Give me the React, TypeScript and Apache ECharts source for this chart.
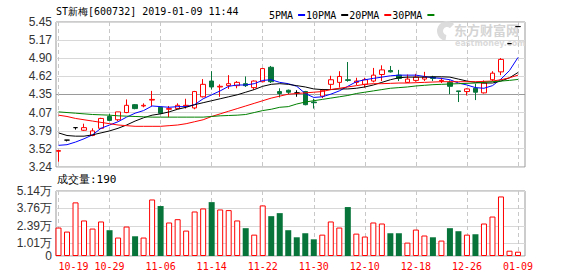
import React, { useEffect, useRef } from 'react';
import * as echarts from 'echarts';

const dates = [
  '10-19','10-22','10-23','10-24','10-25','10-26','10-29','10-30','10-31','11-01',
  '11-02','11-05','11-06','11-07','11-08','11-09','11-12','11-13','11-14','11-15',
  '11-16','11-19','11-20','11-21','11-22','11-23','11-26','11-27','11-28','11-29',
  '11-30','12-03','12-04','12-05','12-06','12-07','12-10','12-11','12-12','12-13',
  '12-14','12-17','12-18','12-19','12-20','12-21','12-24','12-25','12-26','12-27',
  '12-28','01-02','01-07','01-08','01-09'
];

const opens = [
  3.48,3.65,3.84,3.80,3.72,3.83,4.01,3.96,4.07,4.19,
  4.17,4.26,4.15,4.12,4.13,4.17,4.14,4.31,4.55,4.46,
  4.48,4.48,4.51,4.45,4.54,4.76,4.39,4.41,4.37,4.39,
  4.23,4.32,4.50,4.53,4.57,4.53,4.50,4.55,4.65,4.71,
  4.64,4.53,4.56,4.58,4.61,4.55,4.53,4.40,4.39,4.44,
  4.37,4.57,4.69,5.12,5.38
];
const closes = [
  3.49,3.65,3.84,3.84,3.79,3.98,3.95,4.08,4.18,4.13,
  4.18,4.27,4.06,4.13,4.18,4.18,4.39,4.50,4.46,4.47,
  4.51,4.53,4.48,4.55,4.74,4.54,4.36,4.38,4.37,4.19,
  4.22,4.41,4.57,4.62,4.56,4.55,4.57,4.64,4.72,4.69,
  4.59,4.58,4.61,4.61,4.59,4.56,4.47,4.39,4.43,4.38,
  4.52,4.67,4.88,5.12,5.38
];
const lows = [
  3.32,3.63,3.81,3.79,3.71,3.82,3.94,3.94,4.06,4.12,
  4.15,4.17,4.05,4.00,4.12,4.13,4.12,4.30,4.42,4.31,
  4.43,4.44,4.46,4.42,4.53,4.52,4.30,4.35,4.31,4.18,
  4.13,4.29,4.43,4.45,4.54,4.49,4.45,4.53,4.55,4.68,
  4.55,4.52,4.54,4.55,4.55,4.52,4.35,4.23,4.33,4.26,
  4.36,4.55,4.64,5.12,5.38
];
const highs = [
  3.50,3.65,3.84,3.90,3.83,3.99,4.05,4.08,4.27,4.20,
  4.21,4.40,4.16,4.17,4.21,4.28,4.40,4.58,4.70,4.50,
  4.64,4.55,4.62,4.56,4.75,4.78,4.44,4.42,4.41,4.40,
  4.28,4.43,4.63,4.70,4.84,4.60,4.60,4.75,4.79,4.78,
  4.72,4.65,4.66,4.69,4.63,4.60,4.56,4.40,4.44,4.51,
  4.56,4.70,4.90,5.12,5.38
];

// volume in 万
const volumes = [
  2.25,1.93,4.24,2.81,2.17,2.73,2.04,1.46,2.33,1.56,
  1.46,4.47,3.95,2.65,2.91,2.01,3.52,3.76,4.26,3.68,
  3.63,2.81,2.20,1.69,4.00,3.15,3.39,2.04,1.48,1.80,
  1.32,1.69,2.73,2.25,3.87,1.77,1.54,2.65,2.57,1.80,
  1.80,1.06,2.09,1.62,1.48,1.22,2.20,1.96,1.69,1.72,
  2.57,3.12,4.71,0.42,0.34
];

const ma5 = [
  3.57,3.58,3.62,3.67,3.73,3.83,3.88,3.93,4.00,4.06,
  4.10,4.17,4.16,4.15,4.16,4.16,4.19,4.28,4.34,4.40,
  4.47,4.49,4.49,4.51,4.56,4.57,4.53,4.51,4.47,4.36,
  4.30,4.31,4.35,4.40,4.47,4.54,4.57,4.59,4.61,4.63,
  4.64,4.64,4.64,4.62,4.60,4.59,4.57,4.52,4.49,4.45,
  4.44,4.48,4.58,4.71,4.91
];
const ma10 = [
  3.76,3.72,3.71,3.71,3.73,3.76,3.79,3.83,3.88,3.94,
  3.99,4.03,4.05,4.08,4.12,4.15,4.19,4.22,4.25,4.28,
  4.31,4.34,4.38,4.42,4.47,4.50,4.51,4.50,4.48,4.46,
  4.43,4.42,4.42,4.43,4.43,4.44,4.46,4.49,4.53,4.57,
  4.60,4.61,4.61,4.61,4.615,4.615,4.61,4.58,4.55,4.53,
  4.52,4.52,4.55,4.60,4.68
];
const ma20 = [
  4.03,4.01,3.98,3.96,3.94,3.92,3.90,3.88,3.87,3.86,
  3.86,3.86,3.86,3.87,3.88,3.90,3.93,3.96,4.01,4.05,
  4.09,4.13,4.17,4.21,4.25,4.29,4.32,4.35,4.36,4.37,
  4.38,4.39,4.42,4.44,4.46,4.48,4.50,4.51,4.51,4.515,
  4.52,4.52,4.525,4.53,4.535,4.54,4.54,4.54,4.54,4.54,
  4.545,4.55,4.57,4.60,4.64
];
const ma30 = [
  4.08,4.07,4.06,4.05,4.04,4.035,4.03,4.02,4.015,4.01,
  4.005,4.00,4.00,4.00,4.00,4.00,4.00,4.00,4.01,4.02,
  4.025,4.03,4.04,4.07,4.10,4.12,4.15,4.16,4.20,4.23,
  4.25,4.27,4.29,4.31,4.33,4.36,4.38,4.40,4.42,4.44,
  4.45,4.46,4.475,4.485,4.495,4.50,4.505,4.51,4.515,4.52,
  4.53,4.54,4.55,4.56,4.575
];

const priceTicks = [3.24, 3.52, 3.79, 4.07, 4.35, 4.62, 4.90, 5.17, 5.45];
const volumeTicks = [0, 1.01, 2.39, 3.76, 5.14];
const maNames = ['5PMA', '10PMA', '20PMA', '30PMA'];

const RED = '#ff0000';
const GREEN = '#07753a';

export default function App() {
  const ref = useRef<HTMLDivElement>(null);

  useEffect(() => {
    if (!ref.current) return;
    const chart = echarts.init(ref.current, undefined, { renderer: 'svg' });

    const isUp = (i: number) =>
      closes[i] > opens[i] || (closes[i] === opens[i] && (i === 0 || closes[i] >= closes[i - 1]));

    const candleData = opens.map((o, i) => {
      const item: any = { value: [o, closes[i], lows[i], highs[i]] };
      if (o === closes[i]) {
        item.itemStyle = { color: '#000', color0: '#000', borderColor: '#000', borderColor0: '#000' };
      }
      return item;
    });

    const volData = volumes.map((v, i) => ({
      value: v,
      itemStyle: isUp(i)
        ? { color: '#fff', borderColor: RED, borderWidth: 1 }
        : { color: GREEN, borderColor: GREEN, borderWidth: 0 },
    }));

    const splitColors = priceTicks.map((_, i) => (i === 4 ? '#9a9a9a' : '#d8d8d8'));
    const dashed = { show: true, interval: 5, lineStyle: { color: '#c8c8c8', type: [4, 3] as any, width: 1 } };

    const maColors = ['#0000ff', '#000000', '#ff0000', '#008000'];
    const maData = [ma5, ma10, ma20, ma30];

    const option: any = {
      animation: false,
      backgroundColor: '#fff',
      textStyle: { fontFamily: 'Liberation Sans' },
      legend: {
        data: maNames,
        left: 264,
        top: 5,
        align: 'right',
        icon: 'rect',
        itemWidth: 7,
        itemHeight: 2,
        itemGap: 1,
        selectedMode: false,
        textStyle: { fontFamily: 'DejaVu Sans Mono', fontSize: 10, color: '#000' },
      },
      grid: [
        { left: 56, top: 22, width: 469, height: 145, show: true, borderColor: '#999', borderWidth: 1, backgroundColor: 'transparent' },
        { left: 58.5, top: 22, width: 459.5, height: 145 },
        { left: 56, top: 191, width: 469, height: 65, show: true, borderColor: '#999', borderWidth: 1, backgroundColor: 'transparent' },
        { left: 58.5, top: 191, width: 459.5, height: 65 },
      ],
      xAxis: [
        { type: 'value', gridIndex: 0, min: 0, max: 1, show: false },
        {
          type: 'category', gridIndex: 1, data: dates, boundaryGap: false,
          axisLine: { show: false }, axisTick: { show: false }, axisLabel: { show: false },
          splitLine: dashed,
        },
        { type: 'value', gridIndex: 2, min: 0, max: 1, show: false },
        {
          type: 'category', gridIndex: 3, data: dates, boundaryGap: false,
          axisLine: { show: false }, axisTick: { show: false },
          axisLabel: {
            interval: 5, color: RED, fontFamily: 'DejaVu Sans Mono', fontSize: 10, margin: 5,
            alignMinLabel: 'left',
          },
          splitLine: dashed,
        },
      ],
      yAxis: [
        {
          type: 'value', gridIndex: 0, min: 3.24, max: 5.45,
          axisLine: { show: false },
          axisTick: { show: false, customValues: priceTicks },
          axisLabel: {
            customValues: priceTicks, formatter: (v: number) => v.toFixed(2),
            fontFamily: 'Liberation Sans', fontSize: 12, color: '#333', margin: 4,
          },
          splitLine: { show: true, lineStyle: { color: splitColors, width: 1 } },
        },
        { type: 'value', gridIndex: 1, min: 3.24, max: 5.45, show: false, splitLine: { show: false } },
        {
          type: 'value', gridIndex: 2, min: 0, max: 5.14,
          axisLine: { show: false },
          axisTick: { show: false, customValues: volumeTicks },
          axisLabel: {
            customValues: volumeTicks,
            formatter: (v: number) => (v === 0 ? '0' : v.toFixed(2) + '万'),
            fontFamily: 'Liberation Sans', fontSize: 12, color: '#333', margin: 4,
          },
          splitLine: { show: true, lineStyle: { color: '#d8d8d8', width: 1 } },
        },
        { type: 'value', gridIndex: 3, min: 0, max: 5.14, show: false, splitLine: { show: false } },
      ],
      series: [
        {
          type: 'candlestick',
          xAxisIndex: 1, yAxisIndex: 1,
          barWidth: 5,
          clip: false,
          data: candleData,
          itemStyle: {
            color: '#fff', color0: GREEN,
            borderColor: RED, borderColor0: GREEN,
            borderColorDoji: '#000',
            borderWidth: 1,
          },
          z: 2,
        },
        ...maNames.map((name, i) => ({
          name,
          type: 'line',
          xAxisIndex: 1, yAxisIndex: 1,
          data: maData[i],
          color: maColors[i],
          showSymbol: false,
          symbol: 'none',
          lineStyle: { color: maColors[i], width: 1 },
          z: 3,
        })),
        {
          type: 'bar',
          xAxisIndex: 3, yAxisIndex: 3,
          barWidth: 6,
          clip: false,
          data: volData,
        },
      ],
      graphic: [
        {
          type: 'text', x: 56, y: 11, z: 10,
          style: { text: 'ST新梅[600732] 2019-01-09 11:44', font: '10px "DejaVu Sans Mono"', fill: '#000', verticalAlign: 'middle' },
        },
        {
          type: 'text', x: 57, y: 179.5, z: 10,
          style: { text: '成交量:190', font: '11px "DejaVu Sans Mono"', fill: '#000', verticalAlign: 'middle' },
        },
        {
          type: 'sector', z: 0, silent: true,
          shape: { cx: 447, cy: 31, r: 10, r0: 4, startAngle: Math.PI * 0.55, endAngle: Math.PI * 1.75 },
          style: { fill: '#dcdcdc' },
        },
        {
          type: 'text', x: 454, y: 29, z: 0, silent: true,
          style: { text: '东方财富网', font: 'bold 13px "Noto Sans CJK SC"', fill: '#d4d4d4', verticalAlign: 'middle' },
        },
        {
          type: 'text', x: 455, y: 43.5, z: 0, silent: true,
          style: { text: 'eastmoney.com', font: 'bold 8px "DejaVu Sans"', fill: '#dadada', verticalAlign: 'middle' },
        },
      ],
    };

    chart.setOption(option);
    return () => chart.dispose();
  }, []);

  return (
    <div
      ref={ref}
      style={{ position: 'fixed', left: 0, top: 0, width: 578, height: 276, background: '#fff' }}
    />
  );
}
